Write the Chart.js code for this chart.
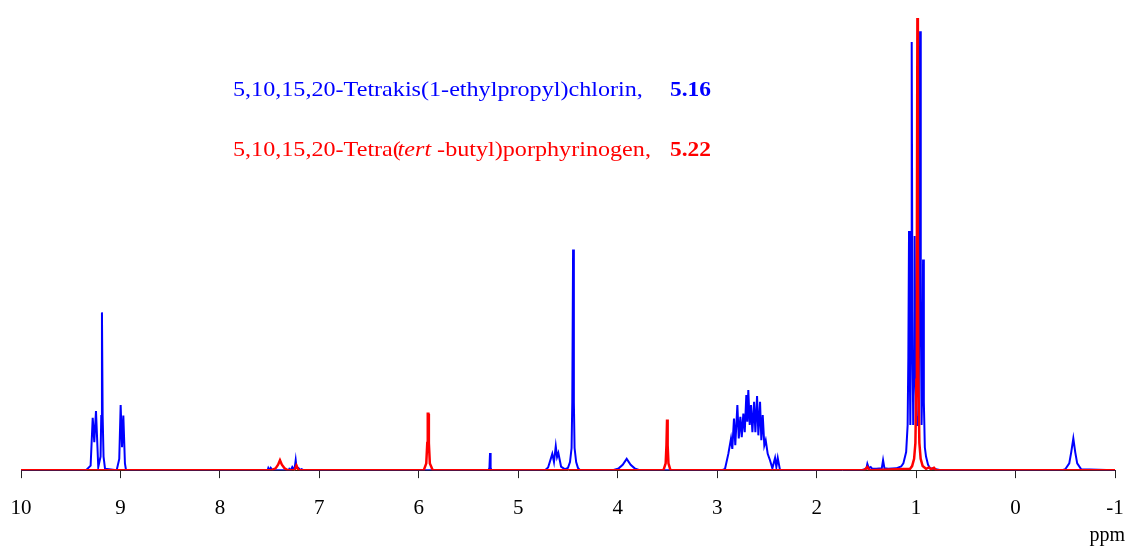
<!DOCTYPE html>
<html>
<head>
<meta charset="utf-8">
<script src="https://cdn.jsdelivr.net/npm/chart.js@4.4.1/dist/chart.umd.min.js"></script>
<style>
  html, body { margin: 0; padding: 0; background: #fff; }
  #wrap { width: 1128px; height: 548px; position: relative; }
</style>
</head>
<body>
<div id="wrap"><canvas id="nmr"></canvas></div>
<script>
// 1H NMR, chemical shift (ppm) vs. relative intensity (tallest peak = 100)
const xTicks = [10, 9, 8, 7, 6, 5, 4, 3, 2, 1, 0, -1];

// 5,10,15,20-Tetrakis(1-ethylpropyl)chlorin (blue)
const chlorinPpm = [
  10.0, 9.346, 9.30, 9.279, 9.263, 9.246, 9.223, 9.200, 9.193, 9.186, 9.179, 9.170, 9.155,
  9.038, 9.012, 8.998, 8.984, 8.971, 8.955, 8.944,
  7.52, 7.513, 7.50, 7.489, 7.47,
  7.31, 7.302, 7.287, 7.272, 7.255, 7.246, 7.238, 7.230, 7.212, 7.19, 7.178, 7.16,
  5.30, 5.29, 5.284, 5.278, 5.27,
  4.731, 4.70, 4.658, 4.641, 4.623, 4.610, 4.597, 4.57, 4.53,
  4.50, 4.48, 4.464, 4.457, 4.449, 4.441, 4.434, 4.418, 4.40, 4.38,
  4.05, 3.99, 3.95, 3.91, 3.87, 3.83, 3.78,
  2.95, 2.921, 2.888, 2.861, 2.848, 2.831, 2.818, 2.797, 2.783, 2.767, 2.753, 2.737, 2.723,
  2.707, 2.697, 2.687, 2.673, 2.660, 2.646, 2.629, 2.616, 2.599, 2.586, 2.569, 2.556,
  2.542, 2.526, 2.512, 2.492, 2.469, 2.445, 2.418, 2.405, 2.391, 2.368,
  1.55, 1.50, 1.490, 1.475, 1.456, 1.44, 1.40, 1.345, 1.332, 1.318, 1.28, 1.20, 1.15,
  1.128, 1.10, 1.085, 1.078, 1.071, 1.064, 1.058, 1.050, 1.044, 1.037, 1.029, 1.021, 1.014,
  1.007, 0.994, 0.987, 0.975, 0.967, 0.960, 0.953, 0.945, 0.937, 0.930, 0.922, 0.912,
  0.90, 0.88, 0.86, 0.80, 0.75,
  -0.47, -0.50, -0.54, -0.56, -0.581, -0.60, -0.62, -0.66,
  -1.0
];
const chlorinInt = [
  0, 0, 1.0, 11.6, 6.2, 13.1, 0.7, 3.0, 12, 34.9, 12, 3.0, 0.3,
  0, 2.5, 14.4, 5.1, 12.1, 1.5, 0,
  0, 0.5, 0, 0.5, 0,
  0, 0.3, 0, 0.7, 0.2, 0.8, 2.2, 0.6, 0.5, 0, 0.2, 0,
  0, 0.5, 3.8, 0.5, 0,
  0, 0.6, 3.6, 1.8, 5.3, 2.9, 3.8, 0.8, 0.2,
  0.5, 1.8, 4.9, 15, 48.8, 15, 4.9, 1.8, 0.5, 0,
  0, 0.4, 1.2, 2.5, 1.2, 0.4, 0,
  0, 0.3, 3.6, 7.0, 4.7, 11.4, 5.5, 14.4, 7.0, 11.8, 7.3, 12.5, 8.4,
  16.6, 10.7, 17.7, 10.0, 14.4, 8.4, 15.1, 8.4, 16.4, 7.7, 15.1, 6.6,
  12.2, 5.5, 6.6, 3.6, 2.2, 0.4, 2.7, 0.7, 2.7, 0,
  0, 0.3, 1.4, 0.4, 0.7, 0.3, 0.3, 0.4, 2.2, 0.4, 0.3, 0.4, 0.8,
  1.5, 4.0, 10, 25, 52.9, 25, 10, 35, 94.7, 35, 10, 22, 51.8,
  22, 10, 10, 12, 38, 97.1, 38, 10, 20, 46.6, 15, 5,
  3.0, 1.2, 0.4, 0.2, 0,
  0, 0.2, 1.5, 4.0, 7.0, 4.0, 1.5, 0.2,
  0
];

// 5,10,15,20-Tetra(tert-butyl)porphyrinogen (red)
const porphPpm = [
  10.0, 7.48, 7.44, 7.415, 7.396, 7.377, 7.35, 7.32, 7.25, 7.23, 7.21,
  5.95, 5.925, 5.915, 5.910, 5.904, 5.899, 5.889, 5.86,
  3.54, 3.518, 3.51, 3.504, 3.498, 3.49, 3.47,
  1.52, 1.49, 1.47, 1.06, 1.04, 1.02, 1.007, 0.997, 0.992, 0.987, 0.982, 0.977,
  0.967, 0.954, 0.934, 0.90, 0.87, 0.85, 0.82, 0.80,
  -1.0
];
const porphInt = [
  0, 0, 0.4, 1.2, 2.2, 1.2, 0.4, 0, 0, 1.0, 0,
  0, 1.5, 6, 12.5, 12.5, 6, 1.5, 0,
  0, 1.5, 5.5, 11.2, 5.5, 1.5, 0,
  0, 0.7, 0, 0.3, 0.9, 2.5, 6, 20, 50, 100, 50, 20,
  6, 2.5, 0.9, 0.3, 0.6, 0.2, 0.5, 0,
  0
];

const labels = [
  { text: "5,10,15,20-Tetrakis(1-ethylpropyl)chlorin,", value: "5.16", color: "#0000ff", y: 96 },
  { text: "5,10,15,20-Tetra(", italic: "tert", rest: " -butyl)porphyrinogen,", value: "5.22", color: "#ff0000", y: 156 }
];

function toPoints(xs, ys) {
  return xs.map((x, i) => ({ x: x, y: ys[i] }));
}

// the original text is a little wider than Times at the same height
const stretch = 1.097;

const annotations = {
  id: "annotations",
  afterDraw(chart) {
    const ctx = chart.ctx;
    ctx.save();
    ctx.textBaseline = "alphabetic";
    ctx.textAlign = "left";
    labels.forEach(l => {
      ctx.fillStyle = l.color;
      ctx.save();
      ctx.translate(233, l.y);
      ctx.scale(stretch, 1);
      ctx.font = "22px 'Liberation Serif'";
      let x = 0;
      ctx.fillText(l.text, x, 0);
      x += ctx.measureText(l.text).width;
      if (l.italic) {
        x -= 3;
        ctx.font = "italic 22px 'Liberation Serif'";
        ctx.fillText(l.italic, x, 0);
        x += ctx.measureText(l.italic).width;
        ctx.font = "22px 'Liberation Serif'";
        ctx.fillText(l.rest, x, 0);
      }
      ctx.restore();
      ctx.save();
      ctx.translate(670, l.y);
      ctx.scale(stretch * 0.97, 1);
      ctx.font = "bold 22px 'Liberation Serif'";
      ctx.fillText(l.value, 0, 0);
      ctx.restore();
    });
    ctx.fillStyle = "#000";
    ctx.font = "20px 'Liberation Serif'";
    ctx.textAlign = "right";
    ctx.fillText("ppm", 1125, 541);
    ctx.restore();
  }
};

new Chart(document.getElementById("nmr"), {
  type: "line",
  data: {
    datasets: [
      {
        label: "Tetrakis(1-ethylpropyl)chlorin",
        data: toPoints(chlorinPpm, chlorinInt),
        borderColor: "#0000ff",
        borderWidth: 2,
        pointRadius: 0,
        tension: 0,
        order: 1
      },
      {
        label: "Tetra(tert-butyl)porphyrinogen",
        data: toPoints(porphPpm, porphInt),
        borderColor: "#ff0000",
        borderWidth: 2.5,
        pointRadius: 0,
        tension: 0,
        order: 0
      }
    ]
  },
  options: {
    animation: false,
    responsive: true,
    maintainAspectRatio: false,
    layout: { padding: { left: 21, right: 13, top: 0, bottom: 10 } },
    plugins: { legend: { display: false }, tooltip: { enabled: false } },
    scales: {
      x: {
        type: "linear",
        reverse: true,
        min: -1,
        max: 10,
        afterBuildTicks: axis => { axis.ticks = xTicks.map(v => ({ value: v })); },
        grid: { drawOnChartArea: false, drawTicks: true, tickLength: 8, color: "#222" },
        border: { display: true, color: "#222", width: 1 },
        ticks: {
          color: "#000",
          padding: 0,
          maxRotation: 0,
          font: { family: "'Liberation Serif'", size: 21, lineHeight: 2.85 }
        }
      },
      y: {
        display: false,
        min: 0,
        max: 104
      }
    }
  },
  plugins: [annotations]
});
</script>
</body>
</html>
